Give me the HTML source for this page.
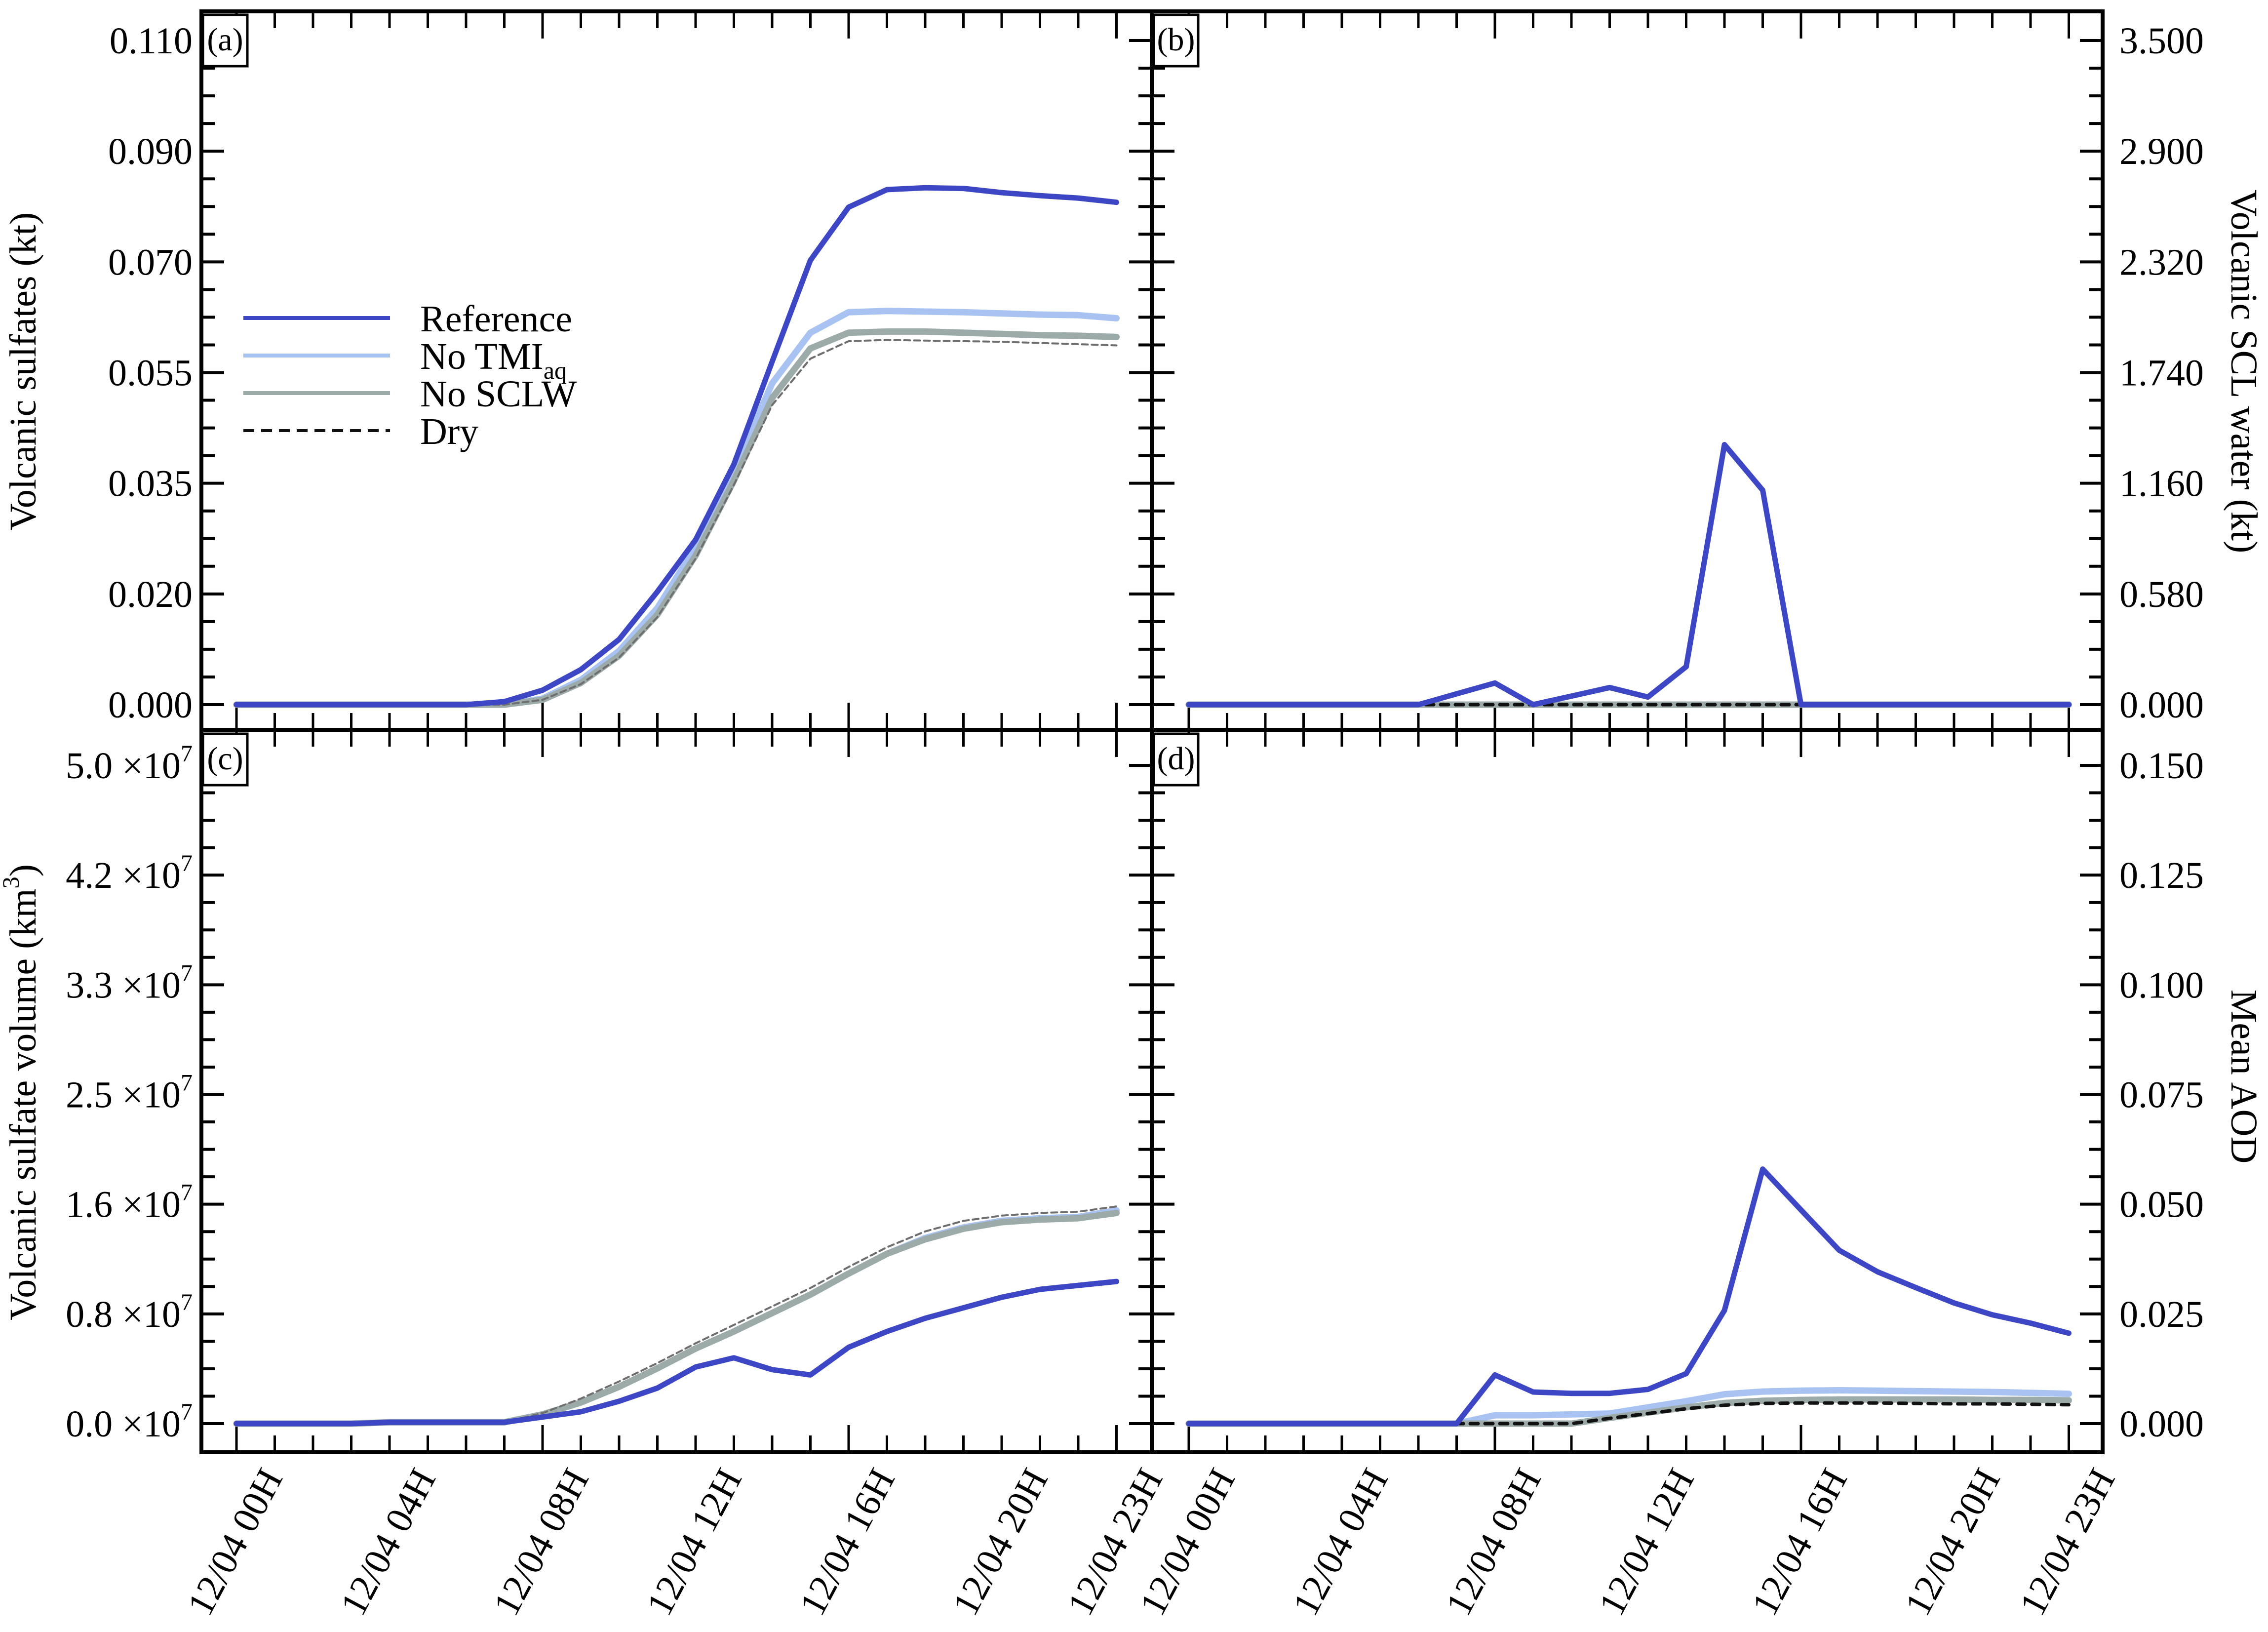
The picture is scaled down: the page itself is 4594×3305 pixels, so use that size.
<!DOCTYPE html>
<html><head><meta charset="utf-8"><style>
html,body{margin:0;padding:0;background:#fff;}
svg{display:block;}
text{font-family:"Liberation Serif",serif;fill:#000;}
</style></head><body>
<svg id="chart" width="4594" height="3305" viewBox="0 0 4594 3305" xmlns="http://www.w3.org/2000/svg"></svg>
<script>
const hours = [0,1,2,3,4,5,6,7,8,9,10,11,12,13,14,15,16,17,18,19,20,21,22,23];
const xTickLabels = ["12/04  00H","12/04  04H","12/04  08H","12/04  12H","12/04  16H","12/04  20H","12/04  23H"];
const xTickHours = [0,4,8,12,16,20,23];

// Panel (a) volcanic sulfates (kt)
const aRef   = [0,0,0,0,0,0,0,0.0005,0.0024,0.0058,0.0108,0.0187,0.0273,0.0398,0.0568,0.0736,0.0824,0.0853,0.0856,0.0855,0.0848,0.0843,0.0839,0.0832];
const aNoTMI = [0,0,0,0,0,0,0,0,0.001,0.0041,0.0089,0.016,0.0261,0.0388,0.0532,0.0616,0.065,0.0652,0.0651,0.065,0.0648,0.0646,0.0645,0.064];
const aNoSCLW= [0,0,0,0,0,0,0,0,0.0008,0.0036,0.0081,0.0149,0.0247,0.0371,0.0508,0.059,0.0616,0.0618,0.0618,0.0616,0.0614,0.0612,0.0611,0.0609];
const aDry   = [0,0,0,0,0,0,0,0,0.0008,0.0034,0.0078,0.0145,0.0242,0.0364,0.0496,0.0573,0.0602,0.0604,0.0603,0.0602,0.0601,0.0599,0.0597,0.0595];
const aTicks = ["0.000","0.020","0.035","0.055","0.070","0.090","0.110"];

// Panel (b) volcanic SCL water (kt)
const bRef   = [0,0,0,0,0,0,0,0.057,0.114,0,0.045,0.09,0.04,0.2,1.37,1.13,0,0,0,0,0,0,0,0];
const bNoTMI = [0,0,0,0,0,0,0,0,0,0,0,0,0,0,0,0,0,0,0,0,0,0,0,0];
const bNoSCLW= [0,0,0,0,0,0,0,0,0,0,0,0,0,0,0,0,0,0,0,0,0,0,0,0];
const bDry   = [0,0,0,0,0,0,0,0,0,0,0,0,0,0,0,0,0,0,0,0,0,0,0,0];
const bTicks = ["0.000","0.580","1.160","1.740","2.320","2.900","3.500"];

// Panel (c) volcanic sulfate volume (units of 1e7 km3)
const cRef   = [0,0,0,0,0.01,0.01,0.01,0.01,0.05,0.09,0.17,0.27,0.43,0.50,0.41,0.37,0.58,0.70,0.80,0.88,0.96,1.02,1.05,1.08];
const cNoTMI = [0,0,0,0,0.01,0.01,0.01,0.01,0.07,0.16,0.28,0.42,0.57,0.70,0.84,0.98,1.14,1.29,1.41,1.49,1.54,1.56,1.57,1.62];
const cNoSCLW= [0,0,0,0,0.01,0.01,0.01,0.01,0.07,0.16,0.28,0.42,0.57,0.70,0.84,0.98,1.14,1.29,1.40,1.48,1.53,1.55,1.56,1.60];
const cDry   = [0,0,0,0,0.01,0.01,0.01,0.01,0.08,0.19,0.32,0.46,0.61,0.75,0.89,1.03,1.19,1.34,1.46,1.54,1.58,1.60,1.61,1.65];
const cTicks = ["0.0","0.8","1.6","2.5","3.3","4.2","5.0"];

// Panel (d) mean AOD
const dRef   = [0,0,0,0,0,0,0,0,0.0111,0.0072,0.0069,0.0069,0.0078,0.0114,0.0258,0.058,0.0487,0.0395,0.0346,0.031,0.0275,0.0248,0.0229,0.0206];
const dNoTMI = [0,0,0,0,0,0,0,0,0.0019,0.0019,0.0021,0.0023,0.0037,0.0051,0.0067,0.0073,0.0075,0.0076,0.0075,0.0074,0.0073,0.0072,0.007,0.0068];
const dNoSCLW= [0,0,0,0,0,0,0,0,0,0,0,0.0013,0.0025,0.0037,0.0047,0.0052,0.0054,0.0055,0.0055,0.0055,0.0055,0.0054,0.0054,0.0053];
const dDry   = [0,0,0,0,0,0,0,0,0,0,0,0.0012,0.0023,0.0034,0.0042,0.0046,0.0047,0.0047,0.0047,0.0046,0.0045,0.0045,0.0044,0.0043];
const dTicks = ["0.000","0.025","0.050","0.075","0.100","0.125","0.150"];

const NS="http://www.w3.org/2000/svg";
const svg=document.getElementById('chart');
function mk(tag,attrs,parent){const e=document.createElementNS(NS,tag);for(const k in attrs)e.setAttribute(k,attrs[k]);(parent||svg).appendChild(e);return e;}

const COL={ref:"#3d47c6",tmi:"#a8c3f1",sclw:"#9cabaa",dry:"#6e6e6e"};

const panels=[
 {id:"a",x0:408,x1:2333,top:82,zero:1427,yTop:23,yBot:1478,ymax:0.11,data:[aRef,aNoTMI,aNoSCLW,aDry],ticks:aTicks,side:"left",boxX:411,boxY:30,exp:false},
 {id:"b",x0:2333,x1:4259,top:82,zero:1427,yTop:23,yBot:1478,ymax:3.5,data:[bRef,bNoTMI,bNoSCLW,bDry],ticks:bTicks,side:"right",boxX:2337,boxY:30,exp:false},
 {id:"c",x0:408,x1:2333,top:1550,zero:2883,yTop:1478,yBot:2941,ymax:5.0,data:[cRef,cNoTMI,cNoSCLW,cDry],ticks:cTicks,side:"left",boxX:411,boxY:1486,exp:true},
 {id:"d",x0:2333,x1:4259,top:1550,zero:2883,yTop:1478,yBot:2941,ymax:0.15,data:[dRef,dNoTMI,dNoSCLW,dDry],ticks:dTicks,side:"right",boxX:2337,boxY:1486,exp:false}
];

panels.forEach(p=>{
 const g=mk('g',{});
 
 
 const h0=p.x0+(p.id==="a"||p.id==="c"?71:75);
 const xs=h=>h0+77.5*h;
 const ys=v=>p.zero-(p.zero-p.top)*v/p.ymax;
 const xt=mk('g',{},g);
 
 
 for(let h=0;h<=23;h++){
  const major=(h===0||h===8||h===16||h===23);
  const L=major?55:34;
  const x=xs(h);
  mk('line',{x1:x,x2:x,y1:p.yBot,y2:p.yBot-L,stroke:"#000","stroke-width":5},xt);
  mk('line',{x1:x,x2:x,y1:p.yTop,y2:p.yTop+L,stroke:"#000","stroke-width":5},xt);
 }
 const yt=mk('g',{},g);
 
 
 const step=(p.zero-p.top)/6;
 for(let i=-1;i<=24;i++){
  const y=p.zero-step*i/4;
  if(y<p.yTop+4||y>p.yBot-4)continue;
  const major=(i%4===0);
  const L=major?46:27;
  mk('line',{x1:p.x0,x2:p.x0+L,y1:y,y2:y,stroke:"#000","stroke-width":6},yt);
  mk('line',{x1:p.x1,x2:p.x1-L,y1:y,y2:y,stroke:"#000","stroke-width":6},yt);
 }
 p.ticks.forEach((t,i)=>{
  const y=p.zero-step*i;
  let tx;
  if(p.side==="left"){
   tx=mk('text',{x:p.x0-18,y:y+26,"text-anchor":"end","font-size":76},g);
   if(p.exp){
    tx.textContent=t+" \u00d710";
    const s=mk('tspan',{"font-size":48,dy:-34},tx);s.textContent="7";
   } else tx.textContent=t;
  } else {
   tx=mk('text',{x:p.x1+34,y:y+26,"text-anchor":"start","font-size":76},g);
   tx.textContent=t;
  }
  
  
 });
 const styles=[
  {c:COL.ref,w:11,d:null,n:'reference'},
  {c:COL.tmi,w:13,d:null,n:'no-tmi'},
  {c:COL.sclw,w:13,d:null,n:'no-sclw'},
  {c:(p.id==="a"||p.id==="c")?COL.dry:"#111",w:(p.id==="a"||p.id==="c")?4:7,d:(p.id==="a"||p.id==="c")?"12,8":"16,14",n:'dry'}
 ];
 const order=[1,2,3,0];
 order.forEach(si=>{
  const st=styles[si];
  const pts=hours.map((h,k)=>xs(h).toFixed(1)+","+ys(p.data[si][k]).toFixed(1)).join(" ");
  const pl=mk('polyline',{points:pts,fill:"none",stroke:st.c,"stroke-width":st.w,"stroke-linejoin":"round","stroke-linecap":"round"},g);
  if(st.d)pl.setAttribute('stroke-dasharray',st.d);
  
  
 });
 const bx=mk('rect',{x:p.boxX,y:p.boxY,width:90,height:104,fill:"#fff",stroke:"#000","stroke-width":5},g);
 
 
 const bl=mk('text',{x:p.boxX+45,y:p.boxY+72,"text-anchor":"middle","font-size":66},g);
 bl.textContent="("+p.id+")";
 
 
 const fr=mk('rect',{x:p.x0,y:p.yTop,width:p.x1-p.x0,height:p.yBot-p.yTop,fill:"none",stroke:"#000","stroke-width":8},g);
 
 
 if(p.id==="c"||p.id==="d"){
  xTickHours.forEach((h,i)=>{
   const ax=xs(h)+95, ay=2992;
   const t=mk('text',{x:ax,y:ay,"text-anchor":"end","font-size":76,transform:"rotate(-62 "+ax+" "+ay+")"},g);
   t.textContent=xTickLabels[i];
   
   
  });
 }
});

function title(txt,x,y,rot,name,sup){
 const t=mk('text',{x:x,y:y,"text-anchor":"middle","font-size":76,transform:"rotate("+rot+" "+x+" "+y+")"});
 t.textContent=txt;
 if(sup){const s=mk('tspan',{"font-size":48,dy:-34},t);s.textContent=sup;const s2=mk('tspan',{dy:34},t);s2.textContent=")";}
 
 
}
title("Volcanic sulfates (kt)",72,752,-90,"y-axis-title-a");
title("Volcanic SCL water (kt)",4520,752,90,"y-axis-title-b");
title("Volcanic sulfate volume (km",72,2212,-90,"y-axis-title-c","3");
title("Mean AOD",4520,2180,90,"y-axis-title-d");

const lg=mk('g',{});


const legItems=[["Reference",COL.ref,8,null,644],["No TMI",COL.tmi,8,null,720],["No SCLW",COL.sclw,8,null,796],["Dry","#111",6,"22,14",872]];
legItems.forEach((it,i)=>{
 const e=mk('g',{},lg);
 
 
 const l=mk('line',{x1:493,x2:790,y1:it[4],y2:it[4],stroke:it[1],"stroke-width":it[2]},e);
 if(it[3])l.setAttribute('stroke-dasharray',it[3]);
 const t=mk('text',{x:851,y:it[4]+27,"font-size":76},e);
 t.textContent=it[0];
 if(i===1){const s=mk('tspan',{"font-size":50,dy:20},t);s.textContent="aq";}
});
</script>
</body></html>
